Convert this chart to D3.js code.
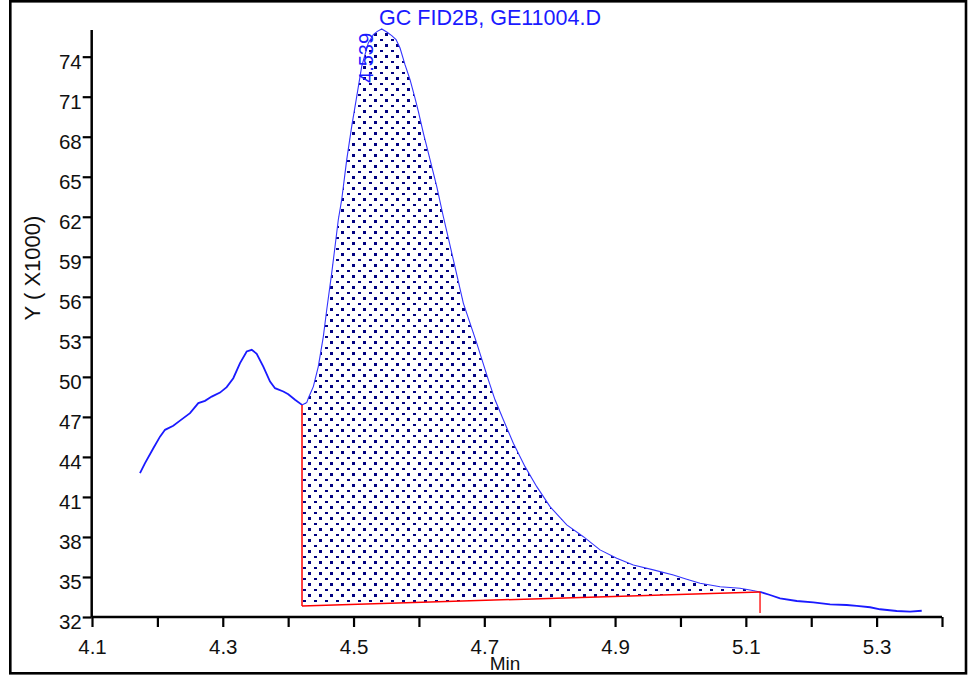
<!DOCTYPE html>
<html>
<head>
<meta charset="utf-8">
<script src="https://cdn.jsdelivr.net/npm/d3@7"></script>
<style>
  html, body { margin: 0; padding: 0; background: #fff; }
  svg { display: block; }
  text { font-family: "Liberation Sans", Arial, sans-serif; }
</style>
</head>
<body>
<svg id="chart" width="972" height="675"></svg>
<script>
// ---- data (retention time in min, signal in units of 1000) ----
const times = [4.1734, 4.1811, 4.1938, 4.2040, 4.2117, 4.2243, 4.2346, 4.2499, 4.2626, 4.2728,
  4.2831, 4.2958, 4.3060, 4.3161, 4.3264, 4.3366, 4.3443, 4.3519, 4.3620, 4.3723,
  4.3799, 4.3926, 4.4002, 4.4105, 4.4212, 4.4284, 4.4308, 4.4385, 4.4461, 4.4538,
  4.4590, 4.4666, 4.4717, 4.4767, 4.4819, 4.4896, 4.4972, 4.5049, 4.5125, 4.5226,
  4.5303, 4.5364, 4.5431, 4.5508, 4.5584, 4.5650, 4.5711, 4.5787, 4.5864, 4.5940,
  4.5991, 4.6067, 4.6170, 4.6272, 4.6373, 4.6450, 4.6526, 4.6679, 4.6884, 4.7062,
  4.7164, 4.7291, 4.7444, 4.7623, 4.7802, 4.8005, 4.8261, 4.8515, 4.8770, 4.9025,
  4.9279, 4.9585, 4.9891, 5.0096, 5.0300, 5.0606, 5.0911, 5.1064, 5.1217, 5.1370,
  5.1523, 5.1779, 5.2032, 5.2288, 5.2543, 5.2696, 5.2900, 5.3053, 5.3308, 5.3511,
  5.3690];
const signal = [42.78, 43.53, 44.65, 45.52, 46.03, 46.33, 46.72, 47.28, 48.03, 48.20,
  48.52, 48.82, 49.23, 49.90, 51.03, 51.90, 52.03, 51.73, 50.77, 49.65,
  49.15, 48.90, 48.70, 48.28, 47.90, 48.07, 48.40, 49.27, 50.77, 53.02,
  55.03, 57.78, 59.77, 61.78, 63.28, 66.28, 68.77, 71.02, 73.27, 75.03,
  75.65, 75.90, 76.08, 75.85, 75.58, 75.28, 74.65, 73.40, 72.28, 70.90,
  69.90, 68.28, 66.28, 64.27, 62.02, 60.40, 58.78, 55.53, 52.53, 49.78,
  48.28, 46.78, 45.03, 43.27, 41.77, 40.27, 38.90, 38.02, 37.03, 36.40,
  35.90, 35.53, 35.15, 34.83, 34.53, 34.27, 34.15, 34.03, 33.88, 33.65,
  33.40, 33.20, 33.10, 32.95, 32.90, 32.83, 32.73, 32.58, 32.45, 32.40,
  32.47];
// integration baseline (start / end)
const baselineTimes = [4.4212, 5.1217];
const baselineValues = [32.83, 33.88];
const endMarkBottom = 32.3;
const peakLabel = "4.539";
const peakTime = 4.539;
const peakValue = 76.08;
const xTicks = [4.1, 4.2, 4.3, 4.4, 4.5, 4.6, 4.7, 4.8, 4.9, 5.0, 5.1, 5.2, 5.3, 5.4];
const xTickLabels = ["4.1", "", "4.3", "", "4.5", "", "4.7", "", "4.9", "", "5.1", "", "5.3", ""];
const yTicks = [32, 35, 38, 41, 44, 47, 50, 53, 56, 59, 62, 65, 68, 71, 74];
const yTickLabels = ["32", "35", "38", "41", "44", "47", "50", "53", "56", "59", "62", "65", "68", "71", "74"];
const title = "GC FID2B, GE11004.D";
const xTitle = "Min";
const yTitle = "Y ( X1000)";

// ---- drawing ----
const svg = d3.select("#chart");
const x = d3.scaleLinear().domain([4.1, 5.4]).range([92, 942]);
const y = d3.scaleLinear().domain([32, 76]).range([617, 30]);

const pts = times.map((t, i) => ({ t: t, v: signal[i] }));

// pattern
const defs = svg.append("defs");
const pat = defs.append("pattern").attr("id", "dots")
  .attr("patternUnits", "userSpaceOnUse")
  .attr("width", 11).attr("height", 11);
pat.append("rect").attr("x", 0).attr("y", 0).attr("width", 3).attr("height", 3).attr("fill", "#000080");
pat.append("rect").attr("x", 6).attr("y", 6).attr("width", 3).attr("height", 2).attr("fill", "#000080");

function interp(t) {
  for (let i = 0; i < pts.length - 1; i++) {
    if (t >= pts[i].t && t <= pts[i + 1].t) {
      const f = (t - pts[i].t) / (pts[i + 1].t - pts[i].t || 1);
      return pts[i].v + f * (pts[i + 1].v - pts[i].v);
    }
  }
  return pts[pts.length - 1].v;
}
const t0 = baselineTimes[0], t1 = baselineTimes[1];
const bl = d3.scaleLinear().domain(baselineTimes).range(baselineValues);

// filled integrated area
const poly = [];
poly.push([t0, bl(t0)]);
poly.push([t0, interp(t0)]);
pts.filter(p => p.t > t0 && p.t < t1).forEach(p => poly.push([p.t, p.v]));
poly.push([t1, interp(t1)]);
poly.push([t1, bl(t1)]);
svg.append("path")
  .attr("d", d3.line().x(d => x(d[0])).y(d => y(d[1]))(poly) + "Z")
  .attr("fill", "url(#dots)").attr("stroke", "none");

// curve
const line = d3.line().x(d => x(d.t)).y(d => y(d.v));
const inside = pts.filter(p => p.t >= t0 && p.t <= t1);
const before = pts.filter(p => p.t <= t0);
const after = pts.filter(p => p.t >= t1);
svg.append("path").attr("d", line(inside)).attr("fill", "none")
  .attr("stroke", "#3333ff").attr("stroke-width", 1.1);
svg.append("path").attr("d", line(before)).attr("fill", "none")
  .attr("stroke", "#1a1aff").attr("stroke-width", 1.8);
svg.append("path").attr("d", line(after)).attr("fill", "none")
  .attr("stroke", "#1a1aff").attr("stroke-width", 1.8);

// baseline (red)
svg.append("line")
  .attr("x1", x(t0)).attr("y1", y(bl(t0))).attr("x2", x(t1)).attr("y2", y(bl(t1)))
  .attr("stroke", "#ff0000").attr("stroke-width", 1.5);
svg.append("line")
  .attr("x1", x(t0)).attr("y1", y(bl(t0))).attr("x2", x(t0)).attr("y2", y(interp(t0)))
  .attr("stroke", "#ff0000").attr("stroke-width", 1.5);
svg.append("line")
  .attr("x1", x(t1)).attr("y1", y(bl(t1))).attr("x2", x(t1)).attr("y2", y(endMarkBottom))
  .attr("stroke", "#ff0000").attr("stroke-width", 1.3);

// axes
const yAxis = d3.axisLeft(y).tickValues(yTicks).tickSize(9).tickPadding(1)
  .tickFormat((d, i) => yTickLabels[i]);
const gy = svg.append("g").attr("transform", "translate(91.7,0)").call(yAxis);
gy.select(".domain").attr("d", `M0,${y(76)}V${y(32)}`).attr("stroke", "#000").attr("stroke-width", 2.5);
gy.selectAll(".tick line").attr("stroke", "#000").attr("stroke-width", 2.2);
gy.selectAll(".tick text").attr("font-size", 20.5).attr("fill", "#111")
  .attr("font-family", "'Liberation Sans', Arial, sans-serif").attr("dy", "0.58em");

const xAxis = d3.axisBottom(x).tickValues(xTicks).tickSize(10)
  .tickFormat((d, i) => xTickLabels[i]);
const gx = svg.append("g").attr("transform", "translate(0,617)").call(xAxis);
gx.select(".domain").attr("d", `M${x(4.1)},0H${x(5.4)}`).attr("stroke", "#000").attr("stroke-width", 2.5);
gx.selectAll(".tick line").attr("stroke", "#000").attr("stroke-width", 2.2);
gx.selectAll(".tick text").attr("font-size", 20.5).attr("fill", "#111")
  .attr("font-family", "'Liberation Sans', Arial, sans-serif")
  .attr("y", 37).attr("dy", 0);

// titles
svg.append("text").attr("x", 490).attr("y", 25).attr("text-anchor", "middle")
  .attr("font-size", 21.5).attr("fill", "#1a1aff").text(title);
svg.append("text").attr("x", 505).attr("y", 670).attr("text-anchor", "middle")
  .attr("font-size", 19).attr("fill", "#111").text(xTitle);
svg.append("text").attr("transform", "translate(40,268) rotate(-90)").attr("text-anchor", "middle")
  .attr("font-size", 22).attr("fill", "#111").text(yTitle);
svg.append("text")
  .attr("transform", `translate(${x(peakTime) - 6},${y(peakValue) + 54}) rotate(-90)`)
  .attr("text-anchor", "start").attr("font-size", 20).attr("fill", "#1a1aff").text(peakLabel);

// frame
svg.append("rect").attr("x", 10.3).attr("y", 1.3).attr("width", 955.7).attr("height", 672)
  .attr("fill", "none").attr("stroke", "#000").attr("stroke-width", 2.6);
</script>
</body>
</html>
